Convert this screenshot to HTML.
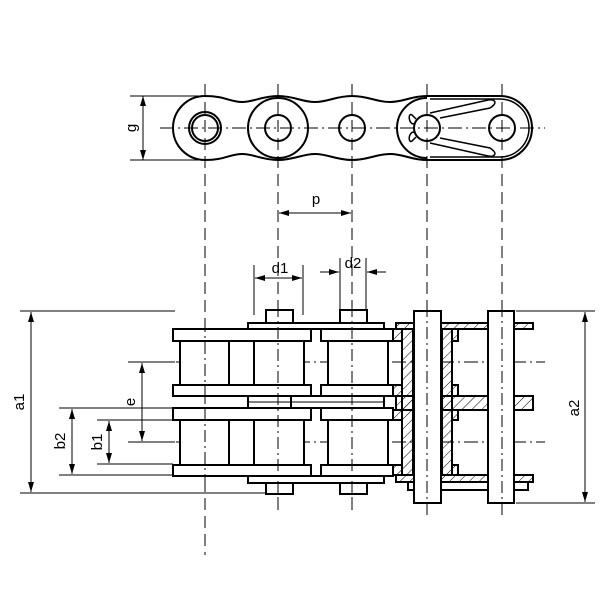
<!DOCTYPE html>
<html><head><style>body{margin:0;background:#fff}svg{display:block}text{font-family:"Liberation Sans",sans-serif;font-size:15px;fill:#000}</style></head><body>
<svg width="600" height="600" viewBox="0 0 600 600" xmlns="http://www.w3.org/2000/svg">
<defs>
<marker id="a" viewBox="0 0 10 6" refX="10" refY="3" markerWidth="10" markerHeight="6" orient="auto-start-reverse" markerUnits="userSpaceOnUse"><path d="M0,0L10,3L0,6z" fill="#000"/></marker>
<pattern id="h" width="7" height="7" patternUnits="userSpaceOnUse" patternTransform="rotate(45)"><line x1="0" y1="0" x2="0" y2="7" stroke="#000" stroke-width="1"/></pattern>
</defs>
<g fill="none" stroke="#000">
<!-- centerlines top view -->
<g stroke-width="1" stroke-dasharray="14,4,2,4">
<line x1="160" y1="128" x2="545" y2="128"/>
</g>
<g stroke-width="1" stroke-dasharray="12,6">
<line x1="205" y1="84" x2="205" y2="555"/>
<line x1="278" y1="84" x2="278" y2="510"/>
<line x1="352" y1="84" x2="352" y2="510"/>
<line x1="427" y1="84" x2="427" y2="515"/>
<line x1="502" y1="84" x2="502" y2="515"/>
</g>
<!-- top view outline -->
<g stroke-width="2">
<path d="M205,96 C225,96 230,102 242,102 C254,102 262,96 278,96 C294,96 302,102 315,102 C328,102 336,96 352,96 C368,96 376,102 390,102 C404,102 411,96 427,96 L500,96 A32,32 0 0 1 500,160 L427,160 C411,160 404,154 390,154 C376,154 368,160 352,160 C336,160 328,154 315,154 C302,154 294,160 278,160 C262,160 254,154 242,154 C230,154 225,160 205,160 A32,32 0 0 1 205,96 Z"/>
<circle cx="278" cy="128" r="30"/>
<path d="M427,98 A30,30 0 0 0 427,158"/>
<path d="M430,99 L500,99 A29,29 0 0 1 500,157 L430,157" stroke-width="1.5"/>
<circle cx="205" cy="128" r="16"/><circle cx="205" cy="128" r="13"/>
<circle cx="278" cy="128" r="13"/><circle cx="352" cy="128" r="13"/>
<circle cx="427" cy="128" r="13"/><circle cx="502" cy="128" r="13"/>
<path d="M430,113 L488,100 C494,99 499,102 490,108 L440,118 M440,138 L490,148 C499,154 494,157 488,156 L430,143 M416,119 L412,115 C408,112 408,124 414,124 M416,137 L412,141 C408,144 408,132 414,132" stroke-width="1.5"/>
</g>
<!-- g dimension -->
<g stroke-width="1">
<line x1="130" y1="96" x2="205" y2="96"/><line x1="130" y1="160" x2="205" y2="160"/>
<line x1="143" y1="96" x2="143" y2="160" marker-start="url(#a)" marker-end="url(#a)"/>
<!-- p -->
<line x1="279" y1="213" x2="351" y2="213" marker-start="url(#a)" marker-end="url(#a)"/>
<!-- d1 -->
<line x1="254" y1="265" x2="254" y2="315"/><line x1="303" y1="265" x2="303" y2="315"/>
<line x1="255" y1="278" x2="302" y2="278" marker-start="url(#a)" marker-end="url(#a)"/>
<!-- d2 -->
<line x1="340" y1="258" x2="340" y2="315"/><line x1="366" y1="258" x2="366" y2="315"/>
<line x1="320" y1="272" x2="339" y2="272" marker-end="url(#a)"/>
<line x1="386" y1="272" x2="367" y2="272" marker-end="url(#a)"/>
<!-- a1 -->
<line x1="20" y1="311" x2="175" y2="311"/><line x1="20" y1="493" x2="268" y2="493"/>
<line x1="31" y1="312" x2="31" y2="492" marker-start="url(#a)" marker-end="url(#a)"/>
<!-- a2 -->
<line x1="516" y1="311" x2="595" y2="311"/><line x1="516" y1="503" x2="595" y2="503"/>
<line x1="585" y1="312" x2="585" y2="502" marker-start="url(#a)" marker-end="url(#a)"/>
<!-- e -->
<line x1="128" y1="362" x2="175" y2="362"/><line x1="128" y1="442" x2="175" y2="442"/>
<line x1="142" y1="363" x2="142" y2="441" marker-start="url(#a)" marker-end="url(#a)"/>
<!-- b2 -->
<line x1="59" y1="408" x2="173" y2="408"/><line x1="59" y1="475" x2="173" y2="475"/>
<line x1="72" y1="409" x2="72" y2="474" marker-start="url(#a)" marker-end="url(#a)"/>
<!-- b1 -->
<line x1="97" y1="420" x2="173" y2="420"/><line x1="97" y1="464" x2="173" y2="464"/>
<line x1="109" y1="421" x2="109" y2="463" marker-start="url(#a)" marker-end="url(#a)"/>
</g>
<!-- horizontal centerlines bottom -->
<g stroke-width="1" stroke-dasharray="14,4,2,4">
<line x1="128" y1="362" x2="545" y2="362"/><line x1="128" y1="442" x2="545" y2="442"/>
</g>
<!-- bottom view -->
<g stroke-width="2" fill="#fff">
<rect x="266" y="310" width="27" height="13"/><rect x="340" y="310" width="27" height="13"/>
<rect x="248" y="323" width="136" height="6"/>
<rect x="173" y="329" width="138" height="12"/><rect x="321" y="329" width="72" height="12"/>
<rect x="180" y="341" width="124" height="44"/><rect x="328" y="341" width="60" height="44"/>
<rect x="173" y="385" width="138" height="11"/><rect x="321" y="385" width="72" height="11"/>
<rect x="248" y="396" width="136" height="12"/>
<rect x="173" y="408" width="138" height="12"/><rect x="321" y="408" width="72" height="12"/>
<rect x="180" y="420" width="124" height="45"/><rect x="328" y="420" width="60" height="45"/>
<rect x="173" y="465" width="138" height="11"/><rect x="321" y="465" width="72" height="11"/>
<rect x="248" y="476" width="136" height="7"/>
<rect x="266" y="483" width="27" height="11"/><rect x="340" y="483" width="27" height="11"/>
</g>
<g stroke-width="2">
<line x1="229" y1="341" x2="229" y2="385"/><line x1="254" y1="341" x2="254" y2="385"/>
<line x1="229" y1="420" x2="229" y2="465"/><line x1="254" y1="420" x2="254" y2="465"/>
<line x1="291" y1="396" x2="291" y2="408"/><line x1="248" y1="402" x2="384" y2="402" stroke-width="1"/>
</g>
<!-- right section -->
<g stroke-width="2" fill="url(#h)">
<rect x="396" y="323" width="18" height="6"/><rect x="441" y="323" width="47" height="6"/><rect x="514" y="323" width="19" height="6"/>
<rect x="396" y="396" width="18" height="14"/><rect x="441" y="396" width="47" height="14"/><rect x="514" y="396" width="19" height="14"/>
<rect x="396" y="475" width="18" height="7"/><rect x="441" y="475" width="47" height="7"/><rect x="514" y="475" width="19" height="7"/>
<rect x="402" y="329" width="11" height="146"/><rect x="442" y="329" width="10" height="146"/>
<rect x="393" y="329" width="9" height="12"/><rect x="452" y="329" width="6" height="12"/>
<rect x="393" y="385" width="9" height="11"/><rect x="452" y="385" width="6" height="11"/>
<rect x="393" y="410" width="9" height="10"/><rect x="452" y="410" width="6" height="10"/>
<rect x="393" y="465" width="9" height="10"/><rect x="452" y="465" width="6" height="10"/>
</g>
<g stroke-width="2" fill="#fff">
<rect x="408" y="482" width="38" height="8"/><rect x="437" y="482" width="57" height="8"/><rect x="508" y="482" width="20" height="8"/>
<rect x="414" y="311" width="27" height="192"/><rect x="488" y="311" width="26" height="192"/>
</g>
<g stroke-width="1" stroke-dasharray="12,4,2,4">
<line x1="427" y1="305" x2="427" y2="515"/><line x1="502" y1="305" x2="502" y2="515"/>
<line x1="278" y1="305" x2="278" y2="505"/><line x1="352" y1="305" x2="352" y2="505"/><line x1="205" y1="320" x2="205" y2="490"/>
</g>
</g>
<text x="316" y="204" text-anchor="middle">p</text>
<text x="280" y="273" text-anchor="middle">d1</text>
<text x="353" y="268" text-anchor="middle">d2</text>
<text transform="translate(136,128) rotate(-90)" text-anchor="middle">g</text>
<text transform="translate(24,402) rotate(-90)" text-anchor="middle">a1</text>
<text transform="translate(579,408) rotate(-90)" text-anchor="middle">a2</text>
<text transform="translate(135,402) rotate(-90)" text-anchor="middle">e</text>
<text transform="translate(65,441) rotate(-90)" text-anchor="middle">b2</text>
<text transform="translate(102,442) rotate(-90)" text-anchor="middle">b1</text>
</svg>
</body></html>
